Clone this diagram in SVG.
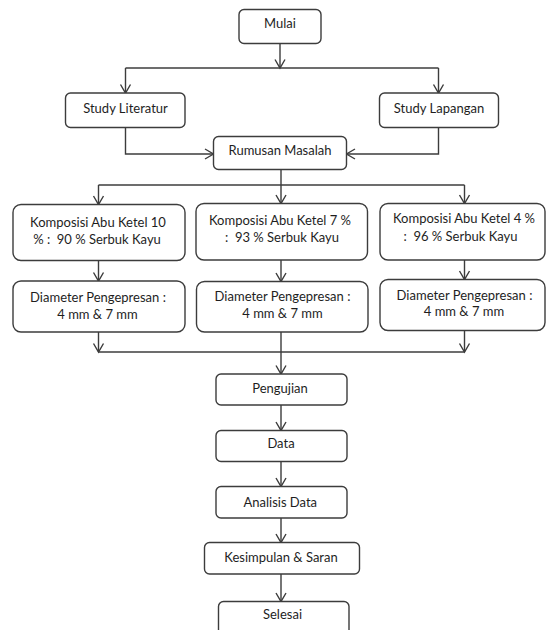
<svg xmlns="http://www.w3.org/2000/svg" width="546" height="630" viewBox="0 0 546 630">
<style>
.b{fill:#fff;stroke:#3c3c3c;stroke-width:1.4}
.t{font-family:Lato,"Liberation Sans",sans-serif;font-size:13px;fill:#1e1e1e;text-anchor:middle;white-space:pre}
.c{fill:none;stroke:#3c3c3c;stroke-width:1.4}
.a{marker-end:url(#ar)}
</style>
<defs>
<marker id="ar" markerUnits="userSpaceOnUse" viewBox="-10 -7 12 14" markerWidth="12" markerHeight="14" refX="0" refY="0" orient="auto">
<path d="M-8.5,-5 L0,0 L-8.5,5" fill="none" stroke="#3c3c3c" stroke-width="1.4"/>
</marker>
</defs>
<rect width="546" height="630" fill="#fff"/>
<g id="connectors">
<path class="c a" d="M280,43.5 V68"/>
<path class="c" d="M125.5,68 H438.5"/>
<path class="c a" d="M125.5,68 V93"/>
<path class="c a" d="M438.5,68 V93"/>
<path class="c a" d="M125.5,127.5 V154 H213.5"/>
<path class="c a" d="M438.5,127.5 V154 H346.5"/>
<path class="c" d="M281,169.5 V185"/>
<path class="c" d="M98.5,185 H464.5"/>
<path class="c a" d="M98.5,185 V204.5"/>
<path class="c a" d="M281,185 V203.5"/>
<path class="c a" d="M464.5,185 V203.5"/>
<path class="c a" d="M98.5,260.5 V281"/>
<path class="c a" d="M281,260 V281.5"/>
<path class="c a" d="M464.5,260 V279.5"/>
<path class="c a" d="M98.5,332 V352"/>
<path class="c a" d="M464.5,330.5 V352"/>
<path class="c" d="M98.5,352 H464.5"/>
<path class="c a" d="M281,332 V374"/>
<path class="c a" d="M281,405 V430.5"/>
<path class="c a" d="M281,461.5 V486.5"/>
<path class="c a" d="M281,518 V542.5"/>
<path class="c a" d="M281,574 V601.5"/>
</g>
<g id="mulai"><rect class="b" x="239" y="9.5" width="82" height="34" rx="5"/><text class="t" x="280" y="27.5">Mulai</text></g>
<g id="study-literatur"><rect class="b" x="65.5" y="93" width="119.5" height="34.5" rx="5"/><text class="t" x="125.5" y="113">Study Literatur</text></g>
<g id="study-lapangan"><rect class="b" x="379.5" y="93" width="119" height="34.5" rx="5"/><text class="t" x="439" y="113">Study Lapangan</text></g>
<g id="rumusan"><rect class="b" x="213.5" y="136.5" width="133" height="33" rx="5"/><text class="t" x="280" y="155">Rumusan Masalah</text></g>
<g id="komposisi-10"><rect class="b" x="13" y="204.5" width="172" height="56" rx="8"/><text class="t" x="98" y="226.5">Komposisi Abu Ketel 10</text><text class="t" x="97" y="243.5" xml:space="preserve">% :  90 % Serbuk Kayu</text></g>
<g id="komposisi-7"><rect class="b" x="196" y="203.5" width="171.5" height="56.5" rx="8"/><text class="t" x="280" y="225">Komposisi Abu Ketel 7 %</text><text class="t" x="282" y="241.7" xml:space="preserve">:  93 % Serbuk Kayu</text></g>
<g id="komposisi-4"><rect class="b" x="380" y="203.5" width="165" height="56.5" rx="8"/><text class="t" x="464" y="222.7">Komposisi Abu Ketel 4 %</text><text class="t" x="460.5" y="240.7" xml:space="preserve">:  96 % Serbuk Kayu</text></g>
<g id="diameter-1"><rect class="b" x="13" y="281" width="172" height="51" rx="8"/><text class="t" x="98" y="302">Diameter Pengepresan :</text><text class="t" x="97.5" y="318.5">4 mm &amp; 7 mm</text></g>
<g id="diameter-2"><rect class="b" x="196.5" y="281.5" width="171.5" height="50.5" rx="8"/><text class="t" x="282.5" y="301">Diameter Pengepresan :</text><text class="t" x="282.5" y="317.7">4 mm &amp; 7 mm</text></g>
<g id="diameter-3"><rect class="b" x="380" y="279.5" width="165" height="51" rx="8"/><text class="t" x="464.5" y="300">Diameter Pengepresan :</text><text class="t" x="464" y="315.5">4 mm &amp; 7 mm</text></g>
<g id="pengujian"><rect class="b" x="216" y="374" width="131" height="31" rx="5"/><text class="t" x="280" y="393">Pengujian</text></g>
<g id="data"><rect class="b" x="216" y="430.5" width="131" height="31" rx="5"/><text class="t" x="281" y="448">Data</text></g>
<g id="analisis-data"><rect class="b" x="216" y="486.5" width="131" height="31.5" rx="5"/><text class="t" x="280.3" y="506.5">Analisis Data</text></g>
<g id="kesimpulan"><rect class="b" x="204.5" y="542.5" width="155" height="31.5" rx="5"/><text class="t" x="281" y="561.5">Kesimpulan &amp; Saran</text></g>
<g id="selesai"><rect class="b" x="218.5" y="601.5" width="130.5" height="34" rx="5"/><text class="t" x="282.5" y="619">Selesai</text></g>
</svg>
